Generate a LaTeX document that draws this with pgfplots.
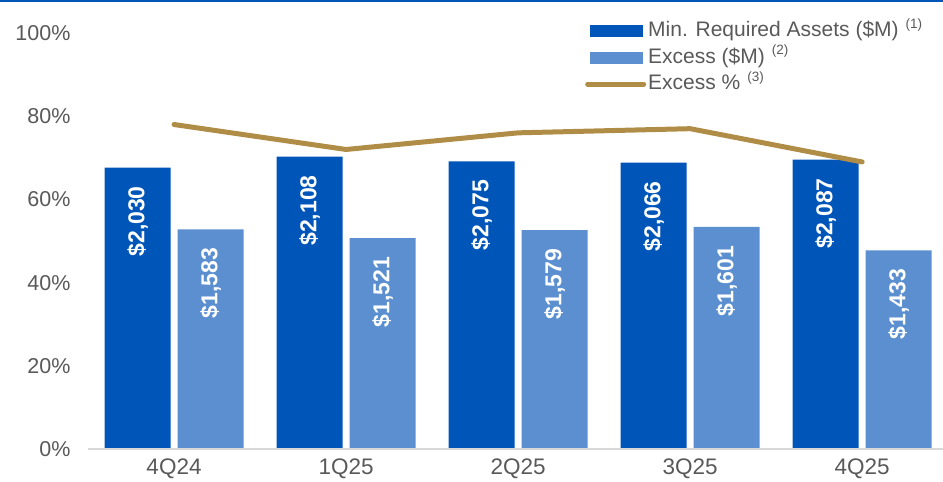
\documentclass[border=0pt]{standalone}
\usepackage{pgfplots}
\pgfplotsset{compat=1.18}
\usepackage{fontspec}
\setmainfont{Liberation Sans}
\definecolor{c1}{HTML}{0055B8}
\definecolor{c2}{HTML}{5B8FD0}
\definecolor{c3}{HTML}{B08D47}
\definecolor{tg}{HTML}{595959}
\definecolor{ax}{HTML}{D9D9D9}
\newcommand{\supn}[1]{\hspace{7pt}{\fontsize{13.5}{13.5}\selectfont\raisebox{8.5pt}{(#1)}}}
\begin{document}
\begin{tikzpicture}
\useasboundingbox (0,0) rectangle (943pt,482pt);
\fill[c1] (0,480pt) rectangle (943pt,482pt);
\begin{axis}[
  at={(88pt,33pt)}, anchor=south west,
  scale only axis, width=855pt, height=416pt,
  xmin=-0.5, xmax=4.47, ymin=0, ymax=3000,
  axis lines=none,
  ybar, bar width=66pt,
  point meta=explicit symbolic,
  nodes near coords,
  every node near coord/.append style={yshift=-18.5pt, rotate=90, anchor=east, inner sep=0pt,
     text=white, font=\fontsize{23}{23}\selectfont\bfseries},
  clip=false,
]
\addplot[fill=c1, draw=none, bar shift=-36.5pt] coordinates {
 (0,2030) [\$2,030] (1,2108) [\$2,108] (2,2075) [\$2,075] (3,2066) [\$2,066] (4,2087) [\$2,087]};
\addplot[fill=c2, draw=none, bar shift=36.5pt] coordinates {
 (0,1583) [\$1,583] (1,1521) [\$1,521] (2,1579) [\$1,579] (3,1601) [\$1,601] (4,1433) [\$1,433]};
\end{axis}
\begin{axis}[
  at={(88pt,33pt)}, anchor=south west,
  scale only axis, width=855pt, height=416pt,
  xmin=-0.5, xmax=4.47, ymin=0, ymax=100,
  axis x line*=bottom, axis y line*=left,
  x axis line style={draw=ax, line width=2pt, -},
  y axis line style={draw=none},
  xtick={0,1,2,3,4}, xticklabels={4Q24,1Q25,2Q25,3Q25,4Q25},
  major tick length=0pt,
  xticklabel style={text=tg, font=\fontsize{22.5}{22.5}\selectfont, yshift=-6pt},
  ytick={0,20,40,60,80,100},
  yticklabels={0\%,20\%,40\%,60\%,80\%,100\%},
  yticklabel style={text=tg, font=\fontsize{21.5}{21.5}\selectfont, xshift=-14pt},
  clip=false,
  legend style={at={(rel axis cs:0.5813,1.028)}, anchor=north west, draw=none, fill=none,
    font=\fontsize{21}{21}\selectfont, text=tg, inner sep=0pt, row sep=7.5pt,
    nodes={inner sep=0pt, text height=15pt, text depth=4pt}},
  legend cell align=left,
]
\addlegendimage{legend image code/.code={\fill[c1] (0pt,-5.5pt) rectangle (52pt,5.5pt);}}
\addlegendentry{\hspace{2pt}Min. Required Assets (\$M)\supn{1}}
\addlegendimage{legend image code/.code={\fill[c2] (0pt,-5.5pt) rectangle (52pt,5.5pt);}}
\addlegendentry{\hspace{2pt}Excess (\$M)\supn{2}}
\addplot[c3, line width=5pt, line cap=round, line join=round, mark=none,
  legend image code/.code={\draw[c3, line width=5pt, line cap=round] (-2pt,0pt) -- (54pt,0pt);}]
  coordinates {(0,78) (1,72) (2,76) (3,77) (4,69)};
\addlegendentry{\hspace{2pt}Excess \%\supn{3}}
\end{axis}
\end{tikzpicture}
\end{document}
